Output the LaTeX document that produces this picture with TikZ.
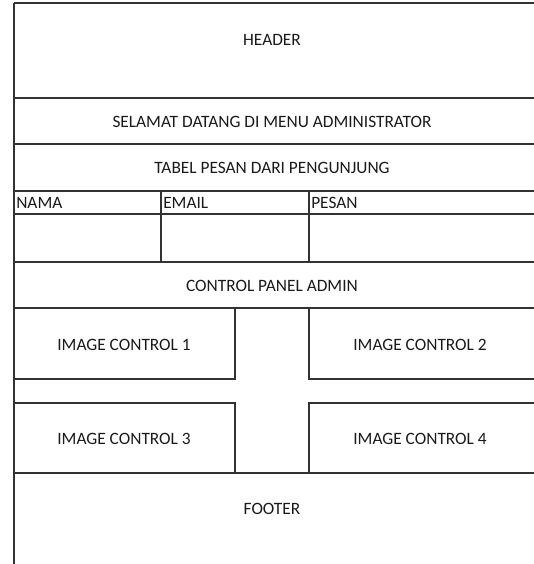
\documentclass[tikz,border=0pt]{standalone}
\usepackage{fontspec}
\setmainfont{Carlito}
\usepackage{xcolor}
\definecolor{garisabu}{HTML}{333333}
\definecolor{teksabu}{HTML}{1A1A1A}
\usetikzlibrary{positioning}

\begin{document}
\begin{tikzpicture}[x=0.75pt, y=-0.75pt,
    garis/.style={draw=garisabu, line width=0.9pt},
    teks/.style={font=\fontsize{13}{15}\selectfont, text=teksabu, inner sep=0pt}]
    \useasboundingbox (0,0) rectangle (534,564);

    % kerangka kiri dan garis mendatar
    \draw[garis] (14,3) -- (14,564);
    \foreach \y in {3,98,144,191,214,262,308,473}
        \draw[garis] (14,\y) -- (534,\y);

    % tabel pesan
    \foreach \x in {161,309}
        \draw[garis] (\x,191) -- (\x,262);
    \node[teks, anchor=west] (nama) at (16,203) {NAMA};
    \node[teks, anchor=west] (email) at (163,203) {EMAIL};
    \node[teks, anchor=west] (pesan) at (311,203) {PESAN};

    % kotak image control
    \draw[garis] (14,379) -- (235,379) -- (235,308);
    \draw[garis] (309,308) -- (309,379) -- (534,379);
    \draw[garis] (14,403) -- (235,403) -- (235,473);
    \draw[garis] (309,473) -- (309,403) -- (534,403);

    % judul tiap bagian
    \node[teks] (header) at (272,40) {HEADER};
    \node[teks] (selamat) at (272,122) {SELAMAT DATANG DI MENU ADMINISTRATOR};
    \node[teks] (tabel) at (272,168) {TABEL PESAN DARI PENGUNJUNG};
    \node[teks] (panel) at (272,286) {CONTROL PANEL ADMIN};
    \node[teks] (img1) at (124,345) {IMAGE CONTROL 1};
    \node[teks] (img2) at (420,345) {IMAGE CONTROL 2};
    \node[teks] (img3) at (124,439) {IMAGE CONTROL 3};
    \node[teks] (img4) at (420,439) {IMAGE CONTROL 4};
    \node[teks] (footer) at (272,509) {FOOTER};
\end{tikzpicture}
\end{document}
